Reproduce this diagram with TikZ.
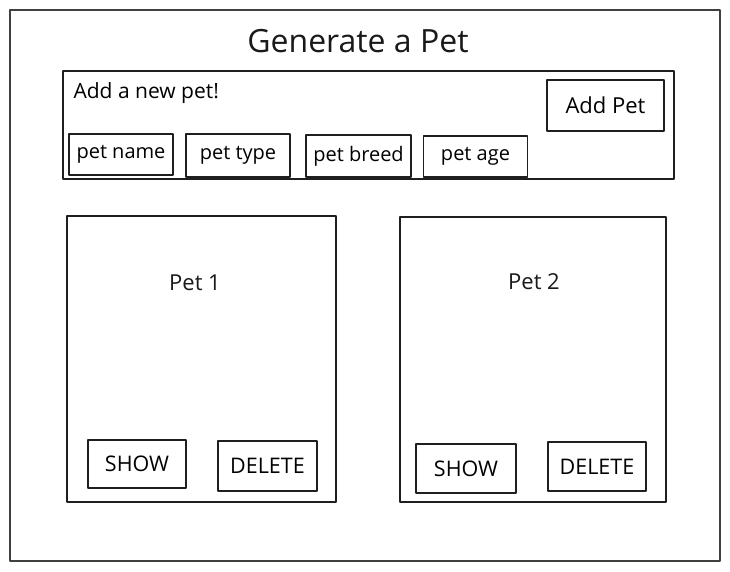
\documentclass[tikz,border=0pt]{standalone}
\usepackage{fontspec}
\setmainfont{Open Sans}
\begin{document}
\begin{tikzpicture}[x=1pt,y=-1pt,
  sketch/.style={draw=black!88, line width=1.1pt, rectangle, inner sep=0pt, line join=round},
  box/.style args={#1x#2}{sketch, minimum width=#1pt, minimum height=#2pt},
  field/.style={font=\fontsize{20}{22}\selectfont},
  btn/.style={font=\fontsize{21.5}{24}\selectfont},
  label/.style={font=\fontsize{22}{24}\selectfont, text=black!90}]
  \useasboundingbox (0,0) rectangle (730,571);
  % page frame
  \node[box=710x551, draw=black!75] (frame) at (365,285.5) {};
  \node[font=\fontsize{32}{36}\selectfont, text=black!90] (title) at (358,41) {Generate a Pet};
  % form area
  \node[box=611x108] (form) at (368.5,125) {};
  \node[anchor=west, font=\fontsize{21}{24}\selectfont] (formtitle) at (70,93) {Add a new pet!};
  \node[box=117x51, font=\fontsize{22}{24}\selectfont] (addpet) at (605.5,105.5) {Add Pet};
  \node[box=104x41, field] (name)  at (121,154.5) {pet name};
  \node[box=104x43, field] (type)  at (238,155.5) {pet type};
  \node[box=105x42, field] (breed) at (358.5,156) {pet breed};
  \node[box=104x41, field] (age)   at (475.5,156.5) {pet age};
  % pet cards
  \node[box=269x286] (pet1) at (201.5,359) {};
  \node[label] (pet1name) at (195,283) {Pet 1};
  \node[box=98x48, btn]  (show1) at (137,464) {SHOW};
  \node[box=99x50, btn]  (del1)  at (267.5,466) {DELETE};
  \node[box=266x285] (pet2) at (533,359.5) {};
  \node[label] (pet2name) at (534,282) {Pet 2};
  \node[box=100x49, btn] (show2) at (466,468.5) {SHOW};
  \node[box=98x49, btn]  (del2)  at (597,466.5) {DELETE};
\end{tikzpicture}
\end{document}
